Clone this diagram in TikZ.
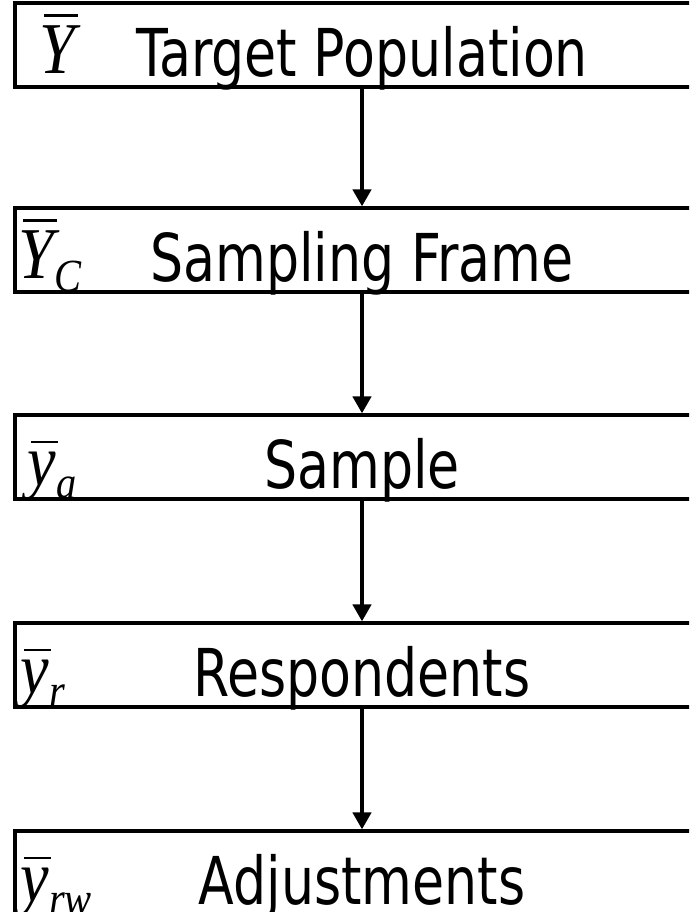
\documentclass[tikz,border=0pt]{standalone}
\usepackage{fontspec}
\usepackage{graphicx}
\usetikzlibrary{arrows.meta, positioning}
\newfontfamily\flowfont{DejaVu Sans}
\newfontfamily\symfont{Liberation Serif}
% narrow letters
\newcommand{\squeeze}[1]{\scalebox{0.79}[1]{#1}}
\newcommand{\symsqueeze}[1]{\scalebox{0.88}[1]{#1}}
% barred estimator with a subscript
\newsavebox\symbox
\newcommand{\barred}[2]{%
  \sbox\symbox{\symsqueeze{\fontsize{73}{75}\selectfont\symfont\itshape #1}}%
  \vbox{\hbox to \wd\symbox{\hskip 0.12\wd\symbox\vrule width 0.95\wd\symbox height 2.4pt depth 0pt\hss}\kern 8pt\copy\symbox}%
  \raisebox{-13pt}{\symsqueeze{\fontsize{46}{48}\selectfont\symfont\itshape #2}}}
\tikzset{
  stage/.style={
    draw,
    line width=3.2pt,
    minimum width=694pt,
    minimum height=84pt,
    inner sep=0pt
  },
  stage text/.style={
    anchor=base,
    inner sep=0pt,
    font=\flowfont\fontsize{66}{70}\selectfont
  },
  stage sym/.style={
    anchor=base west,
    inner sep=0pt
  },
  flow/.style={
    -{Triangle[width=18pt, length=17pt]},
    line width=4.5pt
  }
}

\begin{document}
\begin{tikzpicture}[x=1pt, y=-1pt]
    % page frame, boxes run off the right edge
    \useasboundingbox (0,0) rectangle (689,912);
    \clip (0,0) rectangle (689,912);

    % stages
    \node[stage] (pop) at (362, 45) {};
    \node[stage] (frame) at (362, 250) {};
    \node[stage] (smp) at (362, 457) {};
    \node[stage] (resp) at (362, 665) {};
    \node[stage] (adj) at (362, 873) {};

    % names of the stages
    \node[stage text] (pop-txt) at ([yshift=12pt]pop.south) {\squeeze{Target Population}};
    \node[stage text] (frame-txt) at ([yshift=12pt]frame.south) {\squeeze{Sampling Frame}};
    \node[stage text] (smp-txt) at ([yshift=12pt]smp.south) {\squeeze{Sample}};
    \node[stage text] (resp-txt) at ([yshift=12pt]resp.south) {\squeeze{Respondents}};
    \node[stage text] (adj-txt) at ([yshift=12pt]adj.south) {\squeeze{Adjustments}};

    % estimators
    \node[stage sym] (pop-sym) at ([shift={(26pt,15pt)}]pop.south west) {\barred{Y}{}};
    \node[stage sym] (frame-sym) at ([shift={(5pt,15pt)}]frame.south west) {\barred{Y}{C}};
    \node[stage sym] (smp-sym) at ([shift={(14pt,15pt)}]smp.south west) {\barred{y}{a}};
    \node[stage sym] (resp-sym) at ([shift={(7pt,15pt)}]resp.south west) {\barred{y}{r}};
    \node[stage sym] (adj-sym) at ([shift={(7pt,15pt)}]adj.south west) {\barred{y}{rw}};

    % arrows
    \draw[flow] (pop) -- (frame);
    \draw[flow] (frame) -- (smp);
    \draw[flow] (smp) -- (resp);
    \draw[flow] (resp) -- (adj);
\end{tikzpicture}
\end{document}
